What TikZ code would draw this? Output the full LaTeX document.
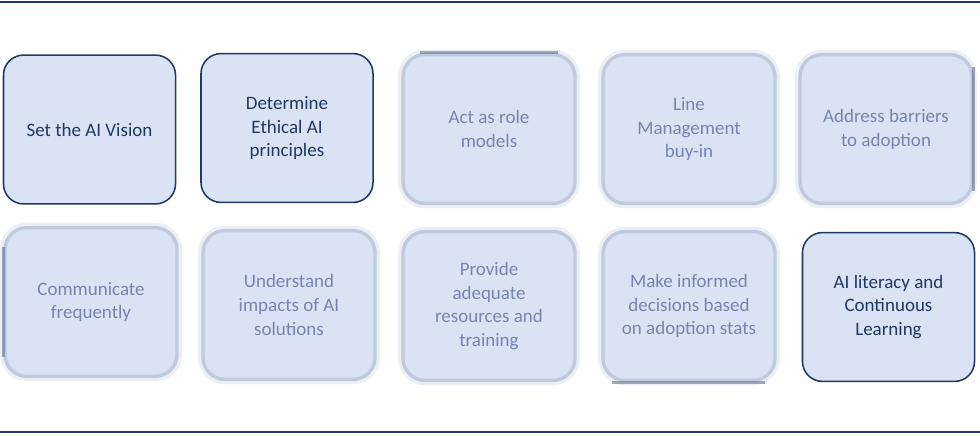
\documentclass[tikz,border=0pt]{standalone}
\usepackage{fontspec}
\setmainfont{Carlito}
\usepackage{tikz}
\usetikzlibrary{positioning}
\definecolor{navy}{HTML}{1F3864}
\definecolor{rulenavy}{HTML}{1F3A70}
\definecolor{boxfill}{HTML}{DAE3F3}
\definecolor{softline}{HTML}{C0CADD}
\definecolor{softtext}{HTML}{7585AF}
\tikzset{sharpbox/.style = {draw=navy, line width=1.1pt, fill=boxfill,
                            rounded corners=0.5cm, align=center,
                            minimum width=4.3cm, minimum height=3.72cm,
                            text=navy, font=\fontsize{13.5}{17}\selectfont}}
\tikzset{softbox/.style = {draw=softline, line width=2.4pt, fill=boxfill,
                           rounded corners=0.55cm, align=center,
                           minimum width=4.3cm, minimum height=3.72cm,
                           text=softtext, font=\fontsize{13.5}{17}\selectfont,
                           preaction={draw=softline, opacity=0.3, line width=7pt}}}
\tikzset{edgeleft/.style = {draw=navy, line width=2pt, opacity=0.4}}
\tikzset{rulebar/.style = {draw=rulenavy, line width=2pt}}

\begin{document}
\begin{tikzpicture}[x=0.025cm, y=-0.025cm]
    \useasboundingbox (0,0) rectangle (980,435);
    \coordinate (tl) at (0,2);
    \coordinate (tr) at (980,2);
    \coordinate (bl) at (0,432);
    \coordinate (br) at (980,432);
    \draw[rulebar] (tl) -- (tr);
    \draw[rulebar] (bl) -- (br);
    % top row
    \node[sharpbox] (vision) at (89.5,129.5) {Set the AI Vision};
    \node[sharpbox] (ethics) at (287,128) {Determine\\Ethical AI\\principles};
    \node[softbox] (rolemodels) at (489,129) {Act as role\\models};
    \node[softbox] (buyin) at (689,129) {Line\\Management\\buy-in};
    \node[softbox] (barriers) at (886,129) {Address barriers\\to adoption};
    % bottom row
    \node[softbox] (communicate) at (91,302) {Communicate\\frequently};
    \node[softbox] (impacts) at (289,305) {Understand\\impacts of AI\\solutions};
    \node[softbox] (resources) at (489,306) {Provide\\adequate\\resources and\\training};
    \node[softbox] (decisions) at (689,306) {Make informed\\decisions based\\on adoption stats};
    \node[sharpbox] (literacy) at (888.5,307) {AI literacy and\\Continuous\\Learning};
    % outline edges showing through
    \draw[edgeleft] (rolemodels.north) ++(-69,0) -- ++(138,0);
    \draw[edgeleft] (barriers.east) ++(0,-62) -- ++(0,124);
    \draw[edgeleft] (communicate.west) ++(0,-55) -- ++(0,110);
    \draw[edgeleft] (decisions.south) ++(-77,0) -- ++(153,0);
\end{tikzpicture}
\end{document}
